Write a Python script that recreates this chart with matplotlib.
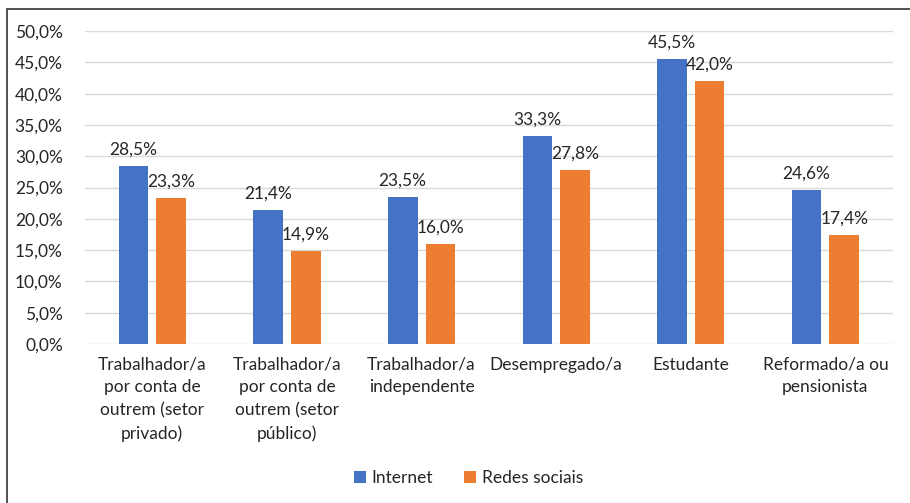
import matplotlib.pyplot as plt
import matplotlib.patches as mpatches
import numpy as np

plt.rcParams['font.family'] = ['Lato', 'DejaVu Sans']

categorias = ['Trabalhador/a\npor conta de\noutrem (setor\nprivado)',
              'Trabalhador/a\npor conta de\noutrem (setor\npúblico)',
              'Trabalhador/a\nindependente',
              'Desempregado/a',
              'Estudante',
              'Reformado/a ou\npensionista']
internet = [28.5, 21.4, 23.5, 33.3, 45.5, 24.6]
redes_sociais = [23.3, 14.9, 16.0, 27.8, 42.0, 17.4]
yticks = np.arange(0, 50.1, 5)

cor_internet = '#4472C4'
cor_redes = '#ED7D31'
cor_texto = '#262626'
fs = 12.5

fig = plt.figure(figsize=(9.10, 5.03), dpi=100)
ax = fig.add_axes([0.0934, 0.316, 0.8876, 0.622])

x = np.arange(len(categorias))
w = 0.22
gap = 0.06
b1 = ax.bar(x - (w + gap) / 2, internet, w, color=cor_internet, label='Internet', zorder=3)
b2 = ax.bar(x + (w + gap) / 2, redes_sociais, w, color=cor_redes, label='Redes sociais', zorder=3)

def fmt(v):
    return ('%.1f%%' % v).replace('.', ',')

for bars, vals in ((b1, internet), (b2, redes_sociais)):
    for b, v in zip(bars, vals):
        ax.annotate(fmt(v), (b.get_x() + b.get_width() / 2, v), xytext=(0, 6),
                    textcoords='offset points', ha='center', va='bottom',
                    fontsize=fs, color=cor_texto)

ax.set_xlim(-0.5, len(categorias) - 0.5)
ax.set_ylim(0, 50)
ax.set_yticks(yticks)
ax.set_yticklabels([fmt(v) for v in yticks], fontsize=fs, color=cor_texto)
ax.set_xticks(x)
ax.set_xticklabels(categorias, fontsize=fs, color=cor_texto, linespacing=1.53)
ax.tick_params(length=0)
ax.tick_params(axis='y', pad=16)
ax.tick_params(axis='x', pad=9)
ax.grid(axis='y', color='#d9d9d9', linewidth=1, zorder=0)
for s in ax.spines.values():
    s.set_visible(False)

fig.legend(handles=[b1, b2], loc='center', bbox_to_anchor=(0.515, 0.05), ncol=2,
           frameon=False, fontsize=fs, handlelength=0.65, handleheight=0.65,
           handletextpad=0.35, columnspacing=1.8, labelcolor=cor_texto)

# moldura do gráfico
fig.patches.append(mpatches.Rectangle((7 / 910, -0.1), 1.2, 1 - 9 / 503 + 0.1,
                                      transform=fig.transFigure, fill=False,
                                      edgecolor='#333333', linewidth=1.2))

fig.savefig('out.png', dpi=100)
